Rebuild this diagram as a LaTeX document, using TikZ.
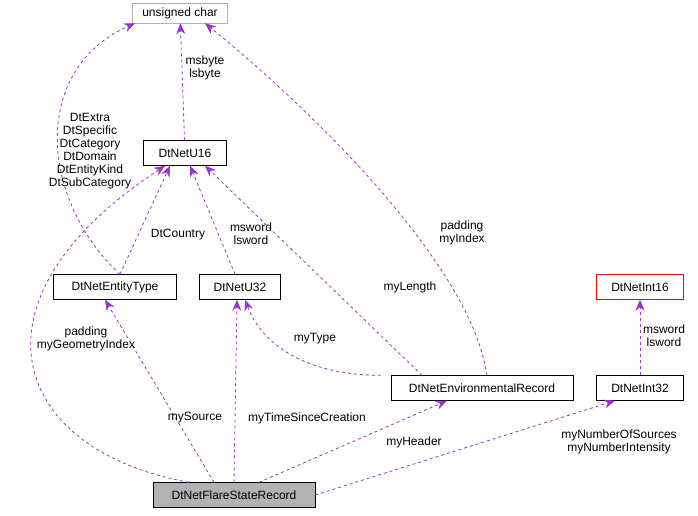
\documentclass[tikz,border=0pt]{standalone}
\usepackage{fontspec}
\setmainfont{Liberation Sans}
\usetikzlibrary{arrows.meta,positioning}
\definecolor{edgecol}{HTML}{9A32CD}
\begin{document}
\begin{tikzpicture}[x=1pt,y=-1pt,font=\fontsize{12}{13}\selectfont,
  cls/.style={draw=black,fill=white,minimum height=25pt,inner xsep=2pt,anchor=center},
  uses/.style={draw=edgecol,dashed,line width=0.8pt,-{Stealth[length=11pt,width=9pt,fill=edgecol]}},
  lbl/.style={align=center,text=black,inner sep=1pt}]
\useasboundingbox (0,0) rectangle (698,515);

% classes
\node[cls,draw=gray!60,minimum height=20pt,minimum width=95pt] (uchar) at (180,13) {unsigned char};
\node[cls,minimum width=83pt] (u16) at (185,153) {DtNetU16};
\node[cls,minimum width=123pt] (etype) at (115,287) {DtNetEntityType};
\node[cls,minimum width=81pt] (u32) at (240,287) {DtNetU32};
\node[cls,draw=red,minimum width=87pt] (i16) at (640,287) {DtNetInt16};
\node[cls,minimum width=182pt] (env) at (482,388) {DtNetEnvironmentalRecord};
\node[cls,minimum width=87pt] (i32) at (640,388) {DtNetInt32};
\node[cls,fill=gray!60,minimum width=162pt] (flare) at (234,495) {DtNetFlareStateRecord};

% members
\draw[uses] (u16) -- (uchar);
\draw[uses] ([xshift=5pt]etype.north) .. controls (40,200) and (30,70) .. ([xshift=-45pt]uchar.south);
\draw[uses] ([xshift=5pt]env.north) .. controls (470,260) and (300,100) .. ([xshift=25pt]uchar.south);
\draw[uses] ([xshift=5pt]etype.north) -- ([xshift=-15pt]u16.south);
\draw[uses] ([xshift=-5pt]u32.north) -- ([xshift=5pt]u16.south);
\draw[uses] ([xshift=-60pt]env.north) -- ([xshift=20pt]u16.south);
\draw[uses] ([xshift=-45pt]flare.north) .. controls (10,450) and (-40,300) .. ([xshift=-20pt]u16.south);
\draw[uses] ([xshift=-20pt]flare.north) -- ([xshift=-10pt]etype.south);
\draw[uses] (flare.north) -- ([xshift=-3pt]u32.south);
\draw[uses] ([xshift=-10pt]env.north west) .. controls (300,375) and (260,340) .. ([xshift=5pt]u32.south);
\draw[uses] ([xshift=25pt]flare.north) -- ([xshift=-35pt]env.south);
\draw[uses] (i32) -- (i16);
\draw[uses] (flare.east) -- ([xshift=-25pt]i32.south);

% labels
\node[lbl] at (205,68) {msbyte\\lsbyte};
\node[lbl] at (90,151) {DtExtra\\DtSpecific\\DtCategory\\DtDomain\\DtEntityKind\\DtSubCategory};
\node[lbl] at (462,233) {padding\\myIndex};
\node[lbl] at (178,235) {DtCountry};
\node[lbl] at (251,234) {msword\\lsword};
\node[lbl] at (410,287) {myLength};
\node[lbl] at (86,339) {padding\\myGeometryIndex};
\node[lbl] at (195,418) {mySource};
\node[lbl] at (307,418) {myTimeSinceCreation};
\node[lbl] at (315,339) {myType};
\node[lbl] at (414,442) {myHeader};
\node[lbl] at (664,336) {msword\\lsword};
\node[lbl] at (619,442) {myNumberOfSources\\myNumberIntensity};
\end{tikzpicture}
\end{document}
